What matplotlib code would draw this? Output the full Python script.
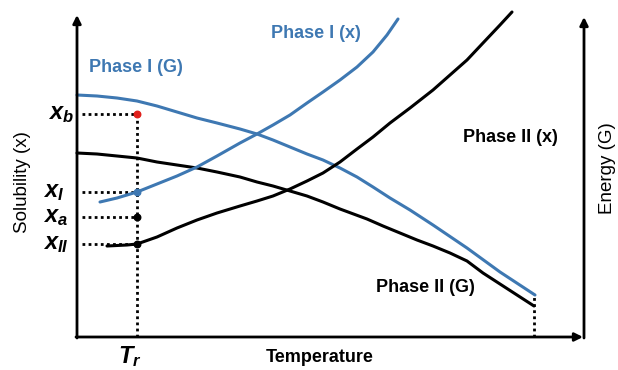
import matplotlib.pyplot as plt

plt.rcParams['font.family'] = ['Liberation Sans', 'DejaVu Sans']
plt.rcParams['mathtext.fontset'] = 'custom'
plt.rcParams['mathtext.it'] = 'Liberation Sans:italic:bold'
plt.rcParams['mathtext.rm'] = 'Liberation Sans:bold'

BLUE = "#3E78B2"

# Energia (G) das fases
temp_g1 = [0, 20, 40, 60, 80, 100, 120, 140, 163, 180, 196, 213, 230, 246, 263, 280, 296, 313,
           333, 356, 390, 423, 458]
g_fase1 = [242, 241, 239, 236, 231, 225, 219, 214, 208, 203, 197, 190, 183, 177, 169, 160, 150, 139,
           127, 112, 89, 65, 42]
temp_g2 = [0, 20, 40, 60, 80, 100, 120, 140, 163, 180, 196, 213, 230, 246, 263, 290, 306, 323,
           340, 356, 373, 390, 406, 423, 440, 457]
g_fase2 = [184, 183, 181, 179, 175, 172, 169, 165, 160, 155, 151, 146, 141, 135, 128, 118, 111, 104,
           97, 91, 84, 76, 64, 53, 42, 31]

# Solubilidade (x) das fases
temp_x1 = [23, 40, 60, 80, 100, 120, 140, 163, 180, 196, 213, 230, 246, 263, 280, 296, 310, 321]
x_fase1 = [135, 139, 145, 153, 161, 170, 181, 194, 203, 212, 222, 234, 245, 257, 270, 285, 302, 318]
temp_x2 = [30, 50, 60, 80, 100, 120, 140, 163, 180, 196, 213, 230, 246, 263, 280, 296, 313, 333,
           356, 373, 390, 406, 423, 435]
x_fase2 = [91, 92, 93, 100, 109, 117, 124, 131, 136, 141, 148, 156, 164, 175, 188, 200, 214, 229,
           247, 262, 277, 294, 312, 325]

# Pontos na temperatura Tr
t_r = 60
pontos = {"b": 223, "I": 145, "a": 120, "II": 93}
cores_pontos = {"b": "#E0201B", "I": BLUE, "a": "black", "II": "black"}
t_fim = 457
g_fim = 42

fig = plt.figure(figsize=(6.18, 3.70), dpi=100)
ax = fig.add_axes([0, 0, 1, 1])
ax.set_xlim(-77, 541)
ax.set_ylim(-33, 337)
ax.axis("off")

# Eixos com setas
seta = dict(arrowstyle="-|>", lw=2, color="black", mutation_scale=12, shrinkA=0, shrinkB=0)
ax.annotate("", xy=(0, 322), xytext=(0, -1), arrowprops=seta)
ax.annotate("", xy=(506, 0), xytext=(-1, 0), arrowprops=seta)
ax.annotate("", xy=(507, 320), xytext=(507, -1), arrowprops=seta)

# Linhas pontilhadas
pont = dict(color="black", lw=2, linestyle=(0, (1, 1.2)))
ax.plot([t_r, t_r], [0, pontos["b"]], **pont)
for k, v in pontos.items():
    ax.plot([5, t_r], [v, v], **pont)
ax.plot([t_fim, t_fim], [0, g_fim], **pont)

# Curvas
linha = dict(lw=2.2, solid_joinstyle="round", solid_capstyle="round")
ax.plot(temp_g1, g_fase1, color=BLUE, **linha)
ax.plot(temp_g2, g_fase2, color="black", **linha)
ax.plot(temp_x1, x_fase1, color=BLUE, **linha)
ax.plot(temp_x2, x_fase2, color="black", **linha)

for k, v in pontos.items():
    ax.scatter(t_r, v, s=22, color=cores_pontos[k], zorder=5)

# Textos
ax.text(12, 270, "Phase I (G)", color=BLUE, fontsize=13, fontweight="bold", va="center")
ax.text(194, 304, "Phase I (x)", color=BLUE, fontsize=13, fontweight="bold", va="center")
ax.text(386, 200, "Phase II (x)", color="black", fontsize=13, fontweight="bold", va="center")
ax.text(299, 49, "Phase II (G)", color="black", fontsize=13, fontweight="bold", va="center")
ax.text(243, -21, "Temperature", fontsize=13, fontweight="bold", ha="center", va="center")
ax.text(53, -20, "$T_r$", fontsize=17, ha="center", va="center")
ax.text(-54, 155, "Solubility (x)", fontsize=13.5, rotation=90, ha="center", va="center")
ax.text(531, 169, "Energy (G)", fontsize=13.5, rotation=90, ha="center", va="center")

ax.text(-29, 223, "$x_b$", fontsize=17, va="center")
ax.text(-34, 145, "$x_I$", fontsize=17, va="center")
ax.text(-34, 120, "$x_a$", fontsize=17, va="center")
ax.text(-34, 93, "$x_{II}$", fontsize=17, va="center")

plt.savefig("out.png", dpi=100)
plt.close()
